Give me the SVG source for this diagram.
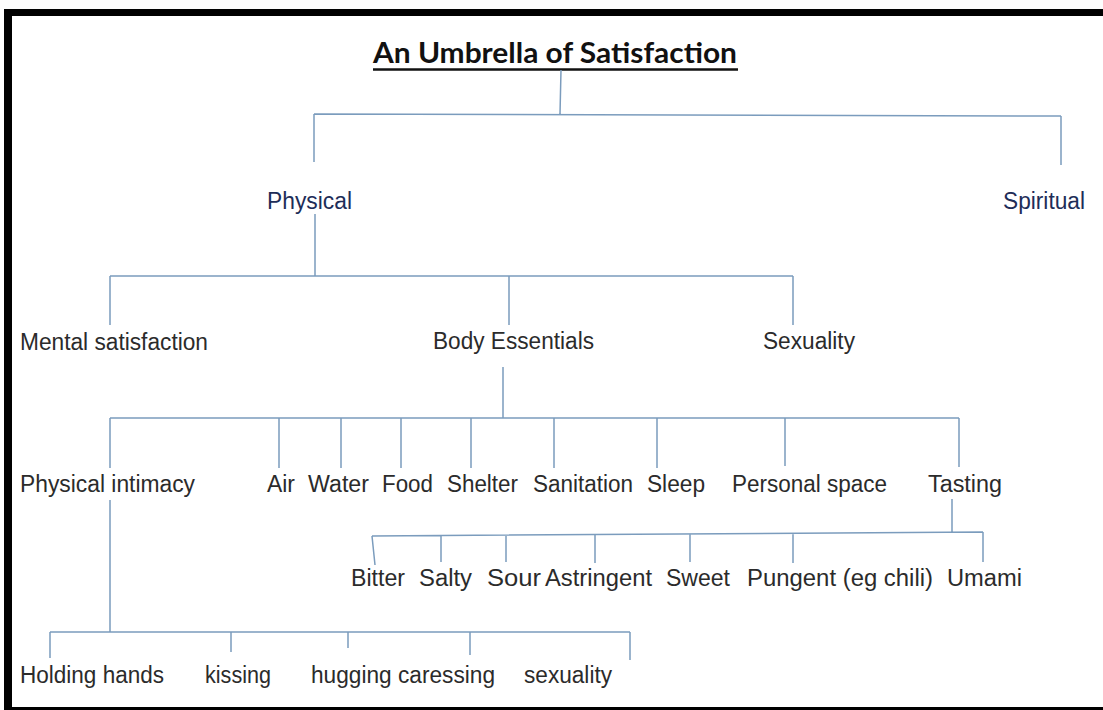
<svg xmlns="http://www.w3.org/2000/svg" width="1103" height="710" viewBox="0 0 1103 710">
<style>
.ln{stroke:#7b9cbd;stroke-width:1.5;fill:none}
.t{font-family:"Liberation Sans",Arial,sans-serif;font-size:23px;fill:#2b2b2b}
.n{font-family:"Liberation Sans",Arial,sans-serif;font-size:23px;fill:#1e2d58}
.h{font-family:Lato,"Open Sans",sans-serif;font-size:28px;font-weight:bold;fill:#111}
</style>
<rect x="0" y="0" width="1103" height="710" fill="#fdfdfd"/>
<rect x="4" y="9" width="1099" height="701" fill="#000"/>
<rect x="12" y="16" width="1091" height="691" fill="#fff"/>
<g id="title">
<text class="h" x="373" y="63" textLength="364" lengthAdjust="spacingAndGlyphs">An Umbrella of Satisfaction</text>
<line x1="373" y1="69.5" x2="738" y2="69.5" stroke="#111" stroke-width="2.5"/>
</g>
<g id="connectors">
<path class="ln" d="M561 70 L560 114 M314 114 L1061 116 M314 114 V162 M1061 116 V165"/>
<path class="ln" d="M315 214 V276 M110 276 H793 M110 276 V325 M509 276 V325 M793 276 V325"/>
<path class="ln" d="M503 367 V418 M110 418 H959 M110 418 V468 M279 418 V468 M341 418 V468 M401 418 V468 M471 418 V468 M554 418 V468 M657 418 V468 M785 418 V466 M959 418 V467"/>
<path class="ln" d="M952 499 V533 M372 536 L983 532 M372 536 L375 565 M441 535 V562 M506 535 V562 M595 534 V563 M690 534 V562 M793 533 V563 M983 532 V562"/>
<path class="ln" d="M110 500 V632 M50 632 H630 M50 632 V658 M231 632 V652 M348 632 V648 M470 632 V655 M630 632 V660"/>
</g>
<g id="physical"><text class="n" x="267" y="209" textLength="85" lengthAdjust="spacingAndGlyphs">Physical</text></g>
<g id="spiritual"><text class="n" x="1003" y="209" textLength="82" lengthAdjust="spacingAndGlyphs">Spiritual</text></g>
<g id="mental"><text class="t" x="20" y="350" textLength="188" lengthAdjust="spacingAndGlyphs">Mental satisfaction</text></g>
<g id="body"><text class="t" x="433" y="349" textLength="161" lengthAdjust="spacingAndGlyphs">Body Essentials</text></g>
<g id="sexuality1"><text class="t" x="763" y="349" textLength="92" lengthAdjust="spacingAndGlyphs">Sexuality</text></g>
<g id="intimacy"><text class="t" x="20" y="492" textLength="175" lengthAdjust="spacingAndGlyphs">Physical intimacy</text></g>
<g id="air"><text class="t" x="267" y="492" textLength="28" lengthAdjust="spacingAndGlyphs">Air</text></g>
<g id="water"><text class="t" x="308" y="492" textLength="61" lengthAdjust="spacingAndGlyphs">Water</text></g>
<g id="food"><text class="t" x="382" y="492" textLength="51" lengthAdjust="spacingAndGlyphs">Food</text></g>
<g id="shelter"><text class="t" x="447" y="492" textLength="71" lengthAdjust="spacingAndGlyphs">Shelter</text></g>
<g id="sanitation"><text class="t" x="533" y="492" textLength="100" lengthAdjust="spacingAndGlyphs">Sanitation</text></g>
<g id="sleep"><text class="t" x="647" y="492" textLength="58" lengthAdjust="spacingAndGlyphs">Sleep</text></g>
<g id="personal"><text class="t" x="732" y="492" textLength="155" lengthAdjust="spacingAndGlyphs">Personal space</text></g>
<g id="tasting"><text class="t" x="928" y="492" textLength="74" lengthAdjust="spacingAndGlyphs">Tasting</text></g>
<g id="bitter"><text class="t" x="351" y="586" textLength="54" lengthAdjust="spacingAndGlyphs">Bitter</text></g>
<g id="salty"><text class="t" x="419" y="586" textLength="53" lengthAdjust="spacingAndGlyphs">Salty</text></g>
<g id="sour"><text class="t" x="487" y="586" textLength="54" lengthAdjust="spacingAndGlyphs">Sour</text></g>
<g id="astringent"><text class="t" x="545" y="586" textLength="107" lengthAdjust="spacingAndGlyphs">Astringent</text></g>
<g id="sweet"><text class="t" x="666" y="586" textLength="64" lengthAdjust="spacingAndGlyphs">Sweet</text></g>
<g id="pungent"><text class="t" x="747" y="586" textLength="186" lengthAdjust="spacingAndGlyphs">Pungent (eg chili)</text></g>
<g id="umami"><text class="t" x="947" y="586" textLength="75" lengthAdjust="spacingAndGlyphs">Umami</text></g>
<g id="holding"><text class="t" x="20" y="683" textLength="144" lengthAdjust="spacingAndGlyphs">Holding hands</text></g>
<g id="kissing"><text class="t" x="205" y="683" textLength="66" lengthAdjust="spacingAndGlyphs">kissing</text></g>
<g id="hugging"><text class="t" x="311" y="683" textLength="184" lengthAdjust="spacingAndGlyphs">hugging caressing</text></g>
<g id="sexuality2"><text class="t" x="524" y="683" textLength="88" lengthAdjust="spacingAndGlyphs">sexuality</text></g>
</svg>
